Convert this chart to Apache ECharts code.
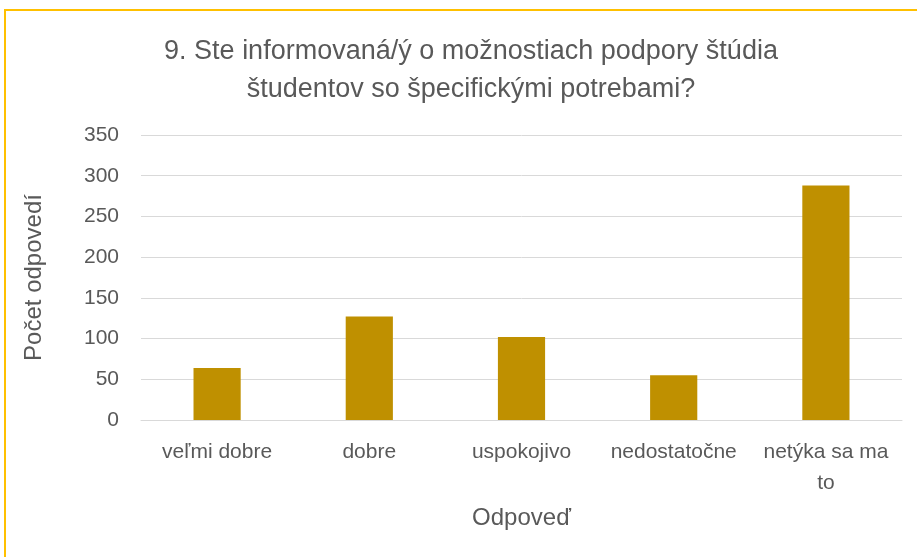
<!DOCTYPE html>
<html>
<head>
  <meta charset="utf-8">
  <script src="https://cdn.jsdelivr.net/npm/echarts@6/dist/echarts.min.js"></script>
  <style>
  html,body{margin:0;padding:0;background:#fff}
  #main{width:917px;height:557px}
  </style>
</head>
<body>
  <div id="main"></div>
  <script type="text/javascript">
      // data
      var titleText = '9. Ste informovaná/ý o možnostiach podpory štúdia\nštudentov so špecifickými potrebami?';
      var categories = ['veľmi dobre', 'dobre', 'uspokojivo', 'nedostatočne', 'netýka sa ma\nto'];
      var counts = [64, 127, 102, 55, 288];
      var yTicks = [0, 50, 100, 150, 200, 250, 300, 350];

      var font = '"Liberation Sans", sans-serif';
      var textColor = '#595959';

      var myChart = echarts.init(document.getElementById('main'));
      var option = {
          animation: false,
          graphic: [{
              type: 'rect',
              shape: { x: 5, y: 10, width: 1000, height: 1000 },
              style: { fill: 'none', stroke: '#FFC000', lineWidth: 2 }
          }],
          title: {
              text: titleText,
              left: 466,
              top: 28,
              textAlign: 'center',
              textStyle: {
                  fontFamily: font,
                  fontSize: 27,
                  fontWeight: 'normal',
                  color: textColor,
                  lineHeight: 38
              }
          },
          grid: {
              left: 141,
              right: 15,
              top: 135,
              bottom: 137
          },
          xAxis: {
              type: 'category',
              data: categories,
              name: 'Odpoveď',
              nameLocation: 'middle',
              nameGap: 86,
              nameTextStyle: { fontFamily: font, fontSize: 24, color: textColor },
              axisLine: { lineStyle: { color: '#D9D9D9', width: 1 } },
              axisTick: { show: false },
              axisLabel: {
                  fontFamily: font, fontSize: 21, color: textColor,
                  margin: 17, lineHeight: 31, interval: 0
              }
          },
          yAxis: {
              type: 'value',
              min: yTicks[0],
              max: yTicks[yTicks.length - 1],
              interval: 50,
              name: 'Počet odpovedí',
              nameLocation: 'middle',
              nameGap: 95,
              nameTextStyle: { fontFamily: font, fontSize: 24, color: textColor },
              axisLine: { show: false },
              axisTick: { show: false },
              splitLine: { lineStyle: { color: '#D9D9D9', width: 1 } },
              axisLabel: { fontFamily: font, fontSize: 21, color: textColor, margin: 22 }
          },
          series: [{
              type: 'bar',
              data: counts,
              barWidth: '31%',
              itemStyle: { color: '#BF9000' }
          }]
      };
      myChart.setOption(option);
  </script>
</body>
</html>
